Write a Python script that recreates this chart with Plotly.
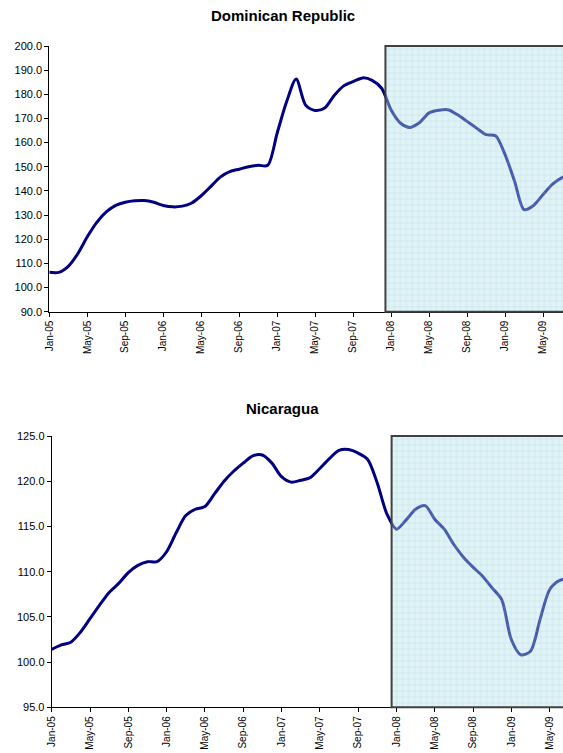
import plotly.graph_objects as go

# valeurs mensuelles (index 0 = Jan-05)
dom_values = [106.3, 106.3, 108.8, 114.0, 121.0, 127.0, 131.3, 134.0, 135.3, 135.9,
              136.0, 135.3, 134.0, 133.4, 133.7, 135.0, 138.0, 141.8, 145.7, 148.0,
              149.0, 150.0, 150.6, 150.6, 164.0, 177.0, 186.3, 175.5, 173.3, 174.3,
              179.5, 183.5, 185.3, 186.8, 185.8, 182.5, 173.5, 168.0, 166.3, 168.3,
              172.3, 173.4, 173.6, 171.5, 168.8, 166.0, 163.3, 162.8, 155.0, 144.0,
              132.3, 134.0, 138.5, 142.8, 145.5, 147.0]
nic_values = [101.4, 101.9, 102.2, 103.3, 104.8, 106.3, 107.7, 108.7, 109.9, 110.7,
              111.1, 111.1, 112.2, 114.3, 116.2, 116.9, 117.2, 118.6, 120.0, 121.1,
              122.0, 122.8, 122.9, 122.0, 120.5, 119.9, 120.1, 120.4, 121.4, 122.5,
              123.4, 123.5, 123.1, 122.4, 119.8, 116.4, 114.7, 115.7, 116.9, 117.3,
              115.8, 114.7, 113.0, 111.6, 110.5, 109.5, 108.2, 106.9, 102.5, 100.8,
              101.2, 104.7, 108.0, 109.0, 109.2]
tick_labels = ["Jan-05", "May-05", "Sep-05", "Jan-06", "May-06", "Sep-06", "Jan-07",
               "May-07", "Sep-07", "Jan-08", "May-08", "Sep-08", "Jan-09", "May-09"]
tick_months = [4 * i for i in range(len(tick_labels))]

# zone de projection (a partir de mi-decembre 2007)
dom_shade_start = 35.4
nic_shade_start = 35.5
dom_range = [90, 200]
nic_range = [95, 125]
dom_xmax = 54.1
nic_xmax = 53.4

NAVY = "#000080"
fig = go.Figure()

for vals, ax, shade, yr, xmax in [(dom_values, "", dom_shade_start, dom_range, dom_xmax),
                                  (nic_values, "2", nic_shade_start, nic_range, nic_xmax)]:
    fig.add_trace(go.Scatter(x=list(range(len(vals))), y=vals, mode="lines",
                             line=dict(color=NAVY, width=3, shape="spline", smoothing=0.8),
                             xaxis="x" + ax, yaxis="y" + ax, showlegend=False,
                             hoverinfo="skip"))
    # rectangle hachure par-dessus la courbe
    fig.add_trace(go.Scatter(x=[shade, xmax + 5, xmax + 5, shade, shade],
                             y=[yr[0], yr[0], yr[1], yr[1], yr[0]],
                             mode="none", fill="toself",
                             fillcolor="rgba(180,225,232,0.4)",
                             fillpattern=dict(shape="+", size=6, solidity=0.2,
                                              fgcolor="rgba(110,190,205,0.55)",
                                              bgcolor="rgba(180,225,232,0.4)",
                                              fillmode="overlay"),
                             xaxis="x" + ax, yaxis="y" + ax, showlegend=False,
                             hoverinfo="skip"))
    fig.add_shape(type="rect", xref="x" + ax + " domain", yref="y" + ax + " domain",
                  x0=shade / xmax, x1=1.05, y0=0, y1=1,
                  line=dict(color="#404040", width=2), fillcolor="rgba(0,0,0,0)")

axis_common = dict(showline=True, linecolor="#000000", linewidth=1, showgrid=False,
                   zeroline=False, ticks="outside", ticklen=4, tickcolor="#000000",
                   automargin=False)
ytick_font = dict(family="Arial", size=11, color="#000000")
xtick_font = dict(family="Arial", size=10, color="#000000")

fig.update_layout(
    width=563, height=753,
    margin=dict(l=0, r=0, t=0, b=0),
    paper_bgcolor="white", plot_bgcolor="white",
    font=dict(family="Arial", color="#000000"),
    xaxis=dict(domain=[49.3 / 563, 1], range=[0, dom_xmax], anchor="y",
               tickvals=tick_months, ticktext=tick_labels, tickangle=-90,
               tickfont=xtick_font, **axis_common),
    yaxis=dict(domain=[1 - 311.7 / 753, 1 - 46 / 753], range=dom_range, anchor="x",
               dtick=10, tickformat=".1f", tickfont=ytick_font, **axis_common),
    xaxis2=dict(domain=[51.7 / 563, 1], range=[0, nic_xmax], anchor="y2",
                tickvals=tick_months, ticktext=tick_labels, tickangle=-90,
                tickfont=xtick_font, **axis_common),
    yaxis2=dict(domain=[1 - 707.3 / 753, 1 - 436 / 753], range=nic_range, anchor="x2",
                dtick=5, tickformat=".1f", tickfont=ytick_font, **axis_common),
    annotations=[
        dict(text="<b>Dominican Republic</b>", x=283 / 563, y=1 - 16 / 753,
             xref="paper", yref="paper", showarrow=False, yanchor="middle",
             font=dict(family="Arial", size=15, color="#000000")),
        dict(text="<b>Nicaragua</b>", x=283 / 563, y=1 - 408 / 753,
             xref="paper", yref="paper", showarrow=False, yanchor="middle",
             font=dict(family="Arial", size=15, color="#000000")),
    ],
)

fig.write_html("out.html", config={"displayModeBar": False},
               post_script="document.body.style.margin='0';")
